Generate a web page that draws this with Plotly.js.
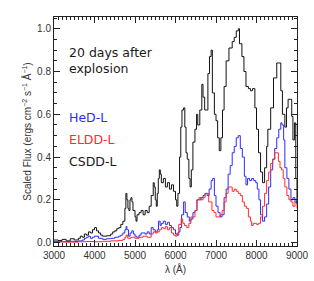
<!DOCTYPE html>
<html>
<head>
<meta charset="utf-8">
<script src="https://cdn.plot.ly/plotly-3.0.1.min.js"></script>
<style>html,body{margin:0;padding:0;background:#fff;}#chart{width:314px;height:281px;}</style>
</head>
<body>
<div id="chart"></div>
<script>
// CSDD-L (black)
const csddWave = [3000,3100,3200,3300,3400,3500,3600,3650,3700,3750,3800,3850,3900,3950,4000,4050,4100,4150,4200,4300,4400,4450,4500,4550,4600,4650,4700,4750,4775,4800,4825,4850,4875,4900,4925,4950,5000,5025,5050,5100,5150,5200,5250,5300,5350,5400,5450,5475,5500,5525,5550,5575,5600,5625,5650,5700,5750,5800,5850,5900,5950,6000,6030,6060,6100,6130,6160,6200,6230,6260,6290,6330,6360,6390,6430,6480,6520,6550,6600,6650,6680,6720,6760,6800,6840,6880,6910,6960,7000,7040,7080,7120,7160,7200,7250,7320,7400,7450,7500,7550,7580,7640,7690,7740,7800,7850,7900,7960,8000,8050,8100,8150,8200,8250,8280,8350,8420,8500,8550,8600,8640,8700,8740,8780,8830,8870,8900,8940,8970,9000];
const csddFlux = [0.012,0.010,0.015,0.008,0.018,0.012,0.02,0.03,0.025,0.04,0.035,0.05,0.045,0.06,0.07,0.055,0.045,0.035,0.03,0.032,0.04,0.05,0.055,0.065,0.07,0.085,0.1,0.16,0.23,0.2,0.16,0.15,0.2,0.21,0.19,0.15,0.12,0.10,0.13,0.14,0.15,0.13,0.15,0.14,0.17,0.22,0.28,0.26,0.2,0.17,0.23,0.3,0.34,0.32,0.28,0.3,0.26,0.28,0.25,0.27,0.24,0.2,0.17,0.23,0.4,0.54,0.62,0.63,0.54,0.42,0.39,0.3,0.26,0.34,0.47,0.53,0.6,0.55,0.62,0.74,0.68,0.62,0.62,0.79,0.87,0.9,0.7,0.6,0.57,0.49,0.43,0.49,0.62,0.73,0.85,0.91,0.94,0.96,0.99,1.0,0.93,0.87,0.8,0.73,0.72,0.71,0.72,0.63,0.53,0.42,0.33,0.28,0.35,0.45,0.53,0.63,0.77,0.84,0.84,0.71,0.6,0.54,0.63,0.67,0.67,0.59,0.48,0.56,0.3,0.18];

// HeD-L (blue)
const hedWave = [3000,3200,3400,3500,3600,3700,3750,3800,3850,3900,3950,4000,4100,4200,4300,4400,4500,4600,4650,4700,4750,4780,4800,4840,4880,4920,4960,5000,5040,5100,5150,5200,5250,5300,5350,5400,5450,5500,5550,5580,5620,5650,5700,5750,5800,5850,5900,5950,6000,6040,6080,6110,6150,6200,6240,6290,6340,6380,6430,6480,6530,6580,6630,6680,6730,6780,6830,6880,6920,6960,7000,7050,7100,7150,7200,7250,7300,7350,7400,7450,7500,7550,7600,7650,7700,7740,7780,7830,7880,7930,7980,8020,8060,8100,8150,8200,8250,8300,8350,8400,8450,8500,8550,8600,8630,8670,8700,8750,8800,8850,8900,8950,9000];
const hedFlux = [0.005,0.004,0.006,0.005,0.008,0.012,0.02,0.025,0.03,0.02,0.025,0.03,0.02,0.015,0.018,0.02,0.025,0.03,0.035,0.045,0.06,0.075,0.06,0.03,0.045,0.055,0.04,0.03,0.025,0.035,0.045,0.045,0.04,0.05,0.04,0.07,0.06,0.05,0.06,0.1,0.08,0.09,0.1,0.085,0.095,0.08,0.07,0.06,0.04,0.035,0.05,0.07,0.13,0.19,0.14,0.12,0.1,0.11,0.14,0.15,0.2,0.2,0.21,0.22,0.23,0.22,0.25,0.29,0.3,0.22,0.17,0.14,0.12,0.13,0.21,0.25,0.32,0.36,0.42,0.45,0.49,0.5,0.44,0.4,0.31,0.27,0.3,0.29,0.3,0.29,0.28,0.25,0.2,0.13,0.1,0.12,0.18,0.26,0.34,0.39,0.44,0.49,0.53,0.56,0.55,0.48,0.35,0.3,0.25,0.2,0.21,0.19,0.2];

// ELDD-L (red)
const elddWave = [3000,3300,3600,3800,4000,4200,4400,4600,4700,4750,4780,4820,4900,5000,5100,5200,5300,5400,5450,5500,5550,5600,5650,5700,5750,5800,5850,5900,5950,6000,6040,6080,6140,6180,6220,6280,6330,6380,6430,6480,6530,6580,6630,6680,6730,6780,6820,6860,6900,6950,7000,7050,7100,7150,7200,7250,7300,7350,7400,7450,7500,7550,7600,7650,7700,7750,7800,7850,7880,7920,7960,8000,8050,8100,8150,8200,8250,8300,8350,8400,8450,8500,8540,8580,8620,8660,8700,8750,8800,8850,8900,8950,9000];
const elddFlux = [0.003,0.002,0.004,0.005,0.004,0.006,0.008,0.01,0.015,0.025,0.035,0.02,0.025,0.02,0.025,0.03,0.025,0.04,0.05,0.045,0.05,0.06,0.07,0.065,0.075,0.06,0.07,0.045,0.035,0.03,0.045,0.085,0.11,0.09,0.08,0.07,0.09,0.12,0.12,0.15,0.2,0.21,0.2,0.21,0.23,0.23,0.19,0.19,0.15,0.14,0.12,0.12,0.13,0.15,0.19,0.23,0.26,0.26,0.24,0.25,0.24,0.23,0.22,0.19,0.17,0.16,0.12,0.1,0.08,0.09,0.09,0.085,0.09,0.12,0.17,0.23,0.29,0.33,0.37,0.39,0.42,0.42,0.38,0.35,0.34,0.3,0.26,0.22,0.2,0.19,0.17,0.19,0.16];

const labelText = ["20 days after", "explosion"];
const seriesNames = ["HeD-L", "ELDD-L", "CSDD-L"];
const seriesColors = ["#2b2bff", "#ff2b2b", "#111111"];

const traces = [
  {x: hedWave, y: hedFlux, name: seriesNames[0], color: seriesColors[0]},
  {x: elddWave, y: elddFlux, name: seriesNames[1], color: seriesColors[1]},
  {x: csddWave, y: csddFlux, name: seriesNames[2], color: seriesColors[2]}
].map(s => ({x: s.x, y: s.y, name: s.name, type: 'scatter', mode: 'lines',
  line: {color: s.color, width: 1, shape: 'hv'}, hoverinfo: 'skip'}));

const fontFam = 'Liberation Sans, Arial, sans-serif';
const annFont = {family: 'DejaVu Sans, sans-serif', size: 12.5, color: '#1a1a1a'};
const annotations = [
  {text: labelText[0], x: 0.054, y: 0.843, font: annFont},
  {text: labelText[1], x: 0.054, y: 0.777, font: annFont},
  {text: seriesNames[0], x: 0.054, y: 0.559, font: Object.assign({}, annFont, {color: seriesColors[0]})},
  {text: seriesNames[1], x: 0.054, y: 0.463, font: Object.assign({}, annFont, {color: seriesColors[1]})},
  {text: seriesNames[2], x: 0.054, y: 0.367, font: annFont}
].map(a => Object.assign({xref: 'paper', yref: 'paper', xanchor: 'left', yanchor: 'middle', showarrow: false}, a));

const layout = {
  width: 314, height: 281,
  margin: {l: 54, r: 17, t: 17, b: 35, pad: 0},
  paper_bgcolor: '#fff', plot_bgcolor: '#fff',
  showlegend: false,
  font: {family: fontFam, size: 10, color: '#333'},
  xaxis: {
    range: [3000, 9000], dtick: 1000, tick0: 3000,
    ticks: 'inside', ticklen: 6, tickcolor: '#222', tickwidth: 1,
    minor: {dtick: 100, ticks: 'inside', ticklen: 3, tickcolor: '#222'},
    showline: true, linecolor: '#222', linewidth: 1, mirror: 'allticks',
    showgrid: false, zeroline: false,
    tickfont: {family: fontFam, size: 10, color: '#333'},
    title: {text: 'λ (Å)', font: {family: fontFam, size: 10, color: '#333'}, standoff: 5}
  },
  yaxis: {
    range: [-0.016, 1.055], dtick: 0.2, tick0: 0, tickformat: '.1f',
    ticks: 'inside', ticklen: 6, tickcolor: '#222', tickwidth: 1,
    minor: {dtick: 0.05, ticks: 'inside', ticklen: 3, tickcolor: '#222'},
    showline: true, linecolor: '#222', linewidth: 1, mirror: 'allticks',
    showgrid: false, zeroline: false,
    tickfont: {family: fontFam, size: 10, color: '#333'},
    title: {text: 'Scaled Flux (ergs cm<sup>−2</sup> s<sup>−1</sup> Å<sup>−1</sup>)', font: {family: fontFam, size: 10, color: '#333'}, standoff: 3}
  },
  annotations: annotations
};

Plotly.newPlot('chart', traces, layout, {staticPlot: true, displayModeBar: false});
</script>
</body>
</html>
